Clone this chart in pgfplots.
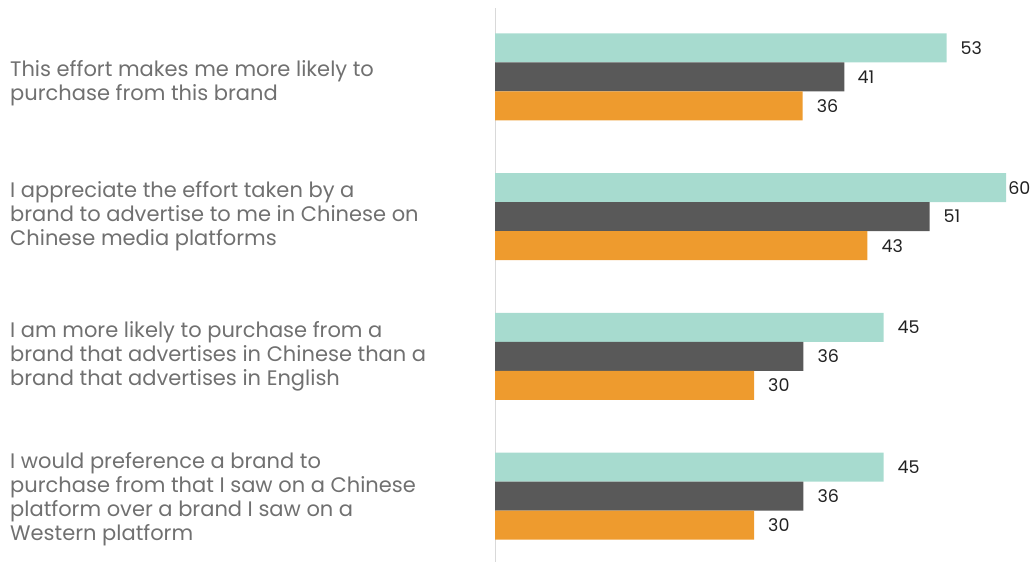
\documentclass[border=0pt]{standalone}
\usepackage{pgfplots}
\pgfplotsset{compat=1.18}
\usepackage{fontspec}
\setmainfont{Poppins}
\definecolor{teal1}{HTML}{A7DBCF}
\definecolor{gray1}{HTML}{595959}
\definecolor{orange1}{HTML}{EE9B2E}
\definecolor{txt}{HTML}{707070}
\definecolor{val}{HTML}{222222}
\pgfplotstableread{
y x s l
3 53.0 14 53
2 60.0 2 60
1 45.6 14 45
0 45.6 14 45
}\teal
\pgfplotstableread{
y x s l
3 41.0 13 41
2 51.0 14 51
1 36.2 14 36
0 36.2 14 36
}\grey
\pgfplotstableread{
y x s l
3 36.1 14 36
2 43.7 14 43
1 30.4 14 30
0 30.4 14 30
}\orng
\begin{document}
\begin{tikzpicture}
\useasboundingbox (0,0) rectangle (1032bp,562bp);
\begin{axis}[
  at={(495bp,0bp)}, anchor=south west,
  scale only axis, width=537bp, height=554bp,
  xmin=0, xmax=63.03,
  ymin=-0.471, ymax=3.493,
  xbar, bar width=29bp,
  hide x axis,
  axis y line*=left,
  y axis line style={draw=black!15, line width=1bp},
  major tick length=0pt,
  ytick={-0.025,1,2,2.957},
  yticklabels={
    {I would preference a brand to\\purchase from that I saw on a Chinese\\platform over a brand I saw on a\\Western platform},
    {I am more likely to purchase from a\\brand that advertises in Chinese than a\\brand that advertises in English},
    {I appreciate the effort taken by a\\brand to advertise to me in Chinese on\\Chinese media platforms},
    {This effort makes me more likely to\\purchase from this brand}
  },
  yticklabel style={anchor=west, xshift=-485bp, align=left, inner sep=0pt, text=txt,
    font=\fontsize{21bp}{24bp}\selectfont},
  point meta=explicit symbolic,
  nodes near coords={\pgfplotspointmeta},
  visualization depends on={\thisrow{s}\as\myshift},
  nodes near coords style={anchor=west, inner sep=0pt, xshift=\myshift bp, text=val,
    font=\fontsize{17.5bp}{20bp}\selectfont},
  every axis plot/.append style={draw=none},
  clip=false,
]
\addplot[fill=teal1, bar shift=29bp] table[x=x,y=y,meta=l] {\teal};
\addplot[fill=gray1, bar shift=0bp] table[x=x,y=y,meta=l] {\grey};
\addplot[fill=orange1, bar shift=-29bp] table[x=x,y=y,meta=l] {\orng};
\end{axis}
\end{tikzpicture}
\end{document}
